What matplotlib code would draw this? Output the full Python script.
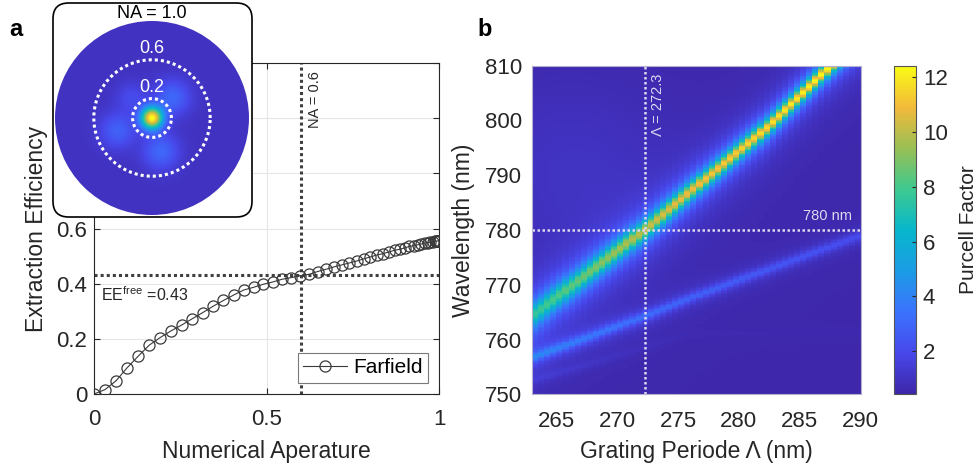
import numpy as np
import matplotlib
matplotlib.use("Agg")
import matplotlib.pyplot as plt
from matplotlib.colors import LinearSegmentedColormap
from matplotlib.patches import FancyBboxPatch, Circle

plt.rcParams['font.family'] = ['Liberation Sans', 'DejaVu Sans']
plt.rcParams['mathtext.fontset'] = 'custom'
plt.rcParams['mathtext.rm'] = 'Liberation Sans'
plt.rcParams['mathtext.it'] = 'Liberation Sans:italic'

# ---- panel a: extraction efficiency vs NA ----
na = [0.000, 0.032, 0.064, 0.096, 0.128, 0.160, 0.191, 0.222, 0.254, 0.285,
      0.315, 0.345, 0.375, 0.405, 0.434, 0.463, 0.491, 0.518, 0.545, 0.572,
      0.598, 0.624, 0.648, 0.672, 0.696, 0.718, 0.740, 0.761, 0.782, 0.801,
      0.820, 0.838, 0.855, 0.871, 0.887, 0.901, 0.914, 0.927, 0.938, 0.949,
      0.959, 0.967, 0.975, 0.982, 0.987, 0.992, 0.995, 0.998, 0.999, 1.000]
ee = [0.000, 0.016, 0.048, 0.095, 0.137, 0.177, 0.204, 0.228, 0.250, 0.273,
      0.295, 0.318, 0.339, 0.359, 0.377, 0.387, 0.398, 0.406, 0.416, 0.422,
      0.429, 0.434, 0.444, 0.452, 0.461, 0.468, 0.475, 0.482, 0.490, 0.497,
      0.504, 0.509, 0.515, 0.521, 0.525, 0.530, 0.535, 0.538, 0.541, 0.544,
      0.547, 0.549, 0.551, 0.552, 0.553, 0.554, 0.555, 0.555, 0.556, 0.556]
ee_free = 0.43
na_mark = 0.6
na_rings = [0.2, 0.6]

# far-field inset pattern (normalised): central spot + weak side lobes
ff_base = 0.05
ff_peak = 1.0
ff_sigma = 0.08
lobe_ang = [45, 200, 285, 135]
lobe_r = [0.30, 0.38, 0.36, 0.30]
lobe_amp = [0.18, 0.16, 0.18, 0.09]
lobe_sig = [0.13, 0.13, 0.13, 0.11]

# ---- panel b: Purcell factor map ----
period_lim = [263, 290]
wl_lim = [750, 810]
period_sel = 272.3
wl_sel = 780
pf_bg = 0.5

bright_p = [263, 267, 272.3, 277, 282, 287.6, 290]
bright_wl = [764.2, 771.0, 780.0, 788.8, 798.0, 810.0, 814.5]
bright_pf = [7.0, 8.0, 9.5, 10.5, 11.2, 12.0, 12.2]
bright_w = [2.4, 2.1, 1.8, 1.6, 1.5, 1.4, 1.4]

weak_p = [263, 272.3, 276, 290]
weak_wl = [756.6, 764.2, 767.5, 778.9]
weak_pf = [3.2, 2.6, 2.3, 1.6]
weak_w = [1.0, 0.95, 0.9, 0.9]

faint_p = [263, 270, 276]
faint_wl = [752.5, 757.0, 761.0]
faint_pf = [0.6, 0.3, 0.1]
faint_w = [0.8, 0.8, 0.8]

# MATLAB parula-like colormap
parula = LinearSegmentedColormap.from_list('parula', [
    (0.000, (0.2422, 0.1504, 0.6603)),
    (0.125, (0.2810, 0.2820, 0.9210)),
    (0.250, (0.2300, 0.4500, 0.9950)),
    (0.375, (0.1090, 0.6130, 0.8980)),
    (0.500, (0.0280, 0.7160, 0.7990)),
    (0.625, (0.2430, 0.7880, 0.5630)),
    (0.750, (0.6000, 0.7500, 0.3300)),
    (0.875, (0.9500, 0.7300, 0.2300)),
    (1.000, (0.9769, 0.9839, 0.0805)),
])

fig = plt.figure(figsize=(9.78, 4.68), dpi=100)

# ------------------------------------------------------------ panel a
ax1 = fig.add_axes([0.0961, 0.1581, 0.3528, 0.7073])
ax1.plot(na, ee, '-o', color='#3a3a3a', lw=0.8, ms=8, mfc='none', mew=0.9,
         label='Farfield', zorder=3)
ax1.axhline(ee_free, color='#404040', ls=(0, (1, 1)), lw=2.2, zorder=2)
ax1.axvline(na_mark, color='#404040', ls=(0, (1, 1)), lw=2.2, zorder=2)
ax1.set_xlim(0, 1)
ax1.set_ylim(0, 1.2)
ax1.set_xticks([0, 0.5, 1])
ax1.set_xticklabels(['0', '0.5', '1'])
ax1.set_yticks([0, 0.2, 0.4, 0.6, 0.8, 1.0, 1.2])
ax1.set_yticklabels(['0', '0.2', '0.4', '0.6', '0.8', '1', '1.2'])
ax1.grid(True, color='#e6e6e6', lw=0.8)
ax1.set_axisbelow(True)
ax1.tick_params(direction='in', length=4, labelsize=16, color='#262626',
                labelcolor='#262626', top=True, right=True)
ax1.tick_params(axis='x', pad=11)
ax1.tick_params(axis='y', pad=5)
for s in ax1.spines.values():
    s.set_color('#262626')
    s.set_linewidth(0.8)
ax1.set_xlabel('Numerical Aperature', fontsize=16.5, color='#262626', labelpad=7)
ax1.set_ylabel('Extraction Efficiency', fontsize=16.5, color='#262626', labelpad=6)
ax1.text(0.02, 0.36, r'EE$^{\mathrm{free}}$ =0.43', fontsize=11.5, color='#262626',
         va='center', ha='left')
ax1.text(0.64, 1.17, 'NA = 0.6', rotation=90, fontsize=10.5, color='#262626',
         va='top', ha='center')
leg = ax1.legend(loc='lower right', fontsize=15, frameon=True, fancybox=False,
                 edgecolor='#7a7a7a', framealpha=1, handlelength=2.1,
                 handletextpad=0.3, borderpad=0.25, borderaxespad=0.55)
leg.get_frame().set_linewidth(0.8)

# inset box and far-field image
fig.add_artist(FancyBboxPatch((53 / 978, 1 - 217 / 468), 199 / 978, 214 / 468,
                              boxstyle='round,pad=0,rounding_size=0.016',
                              mutation_aspect=978 / 468, transform=fig.transFigure,
                              fc='white', ec='black', lw=1.2, zorder=2))
ax_in = fig.add_axes([45.3 / 978, 243.3 / 468, 213.4 / 978, 213.4 / 468], zorder=3)
ax_in.set_axis_off()
ax_in.patch.set_alpha(0)
u = np.linspace(-1, 1, 161)
UX, UY = np.meshgrid(u, u)
ff = ff_base + ff_peak * np.exp(-(UX ** 2 + UY ** 2) / (2 * ff_sigma ** 2))
for ang, rad, amp, sig in zip(lobe_ang, lobe_r, lobe_amp, lobe_sig):
    cx, cy = rad * np.cos(np.radians(ang)), rad * np.sin(np.radians(ang))
    ff += amp * np.exp(-((UX - cx) ** 2 + (UY - cy) ** 2) / (2 * sig ** 2))
img = ax_in.imshow(ff, extent=[-1, 1, -1, 1], origin='lower', cmap=parula,
                   vmin=0, vmax=1.05, interpolation='bilinear')
img.set_clip_path(Circle((0, 0), 1.0, transform=ax_in.transData))
th = np.linspace(0, 2 * np.pi, 300)
for r in na_rings:
    ax_in.plot(r * np.cos(th), r * np.sin(th), color='white', lw=2.2, ls=(0, (1, 1)))
ax_in.set_xlim(-1.1, 1.1)
ax_in.set_ylim(-1.1, 1.1)
ax_in.set_aspect('equal')
ax_in.text(0, 0.72, '0.6', color='white', fontsize=13, ha='center', va='center')
ax_in.text(0, 0.31, '0.2', color='white', fontsize=13, ha='center', va='center')
ax_in.text(0, 1.08, 'NA = 1.0', color='black', fontsize=13, ha='center', va='center',
           clip_on=False)

fig.text(0.0095, 1 - 30 / 468, 'a', fontsize=17, fontweight='bold', va='center')

# ------------------------------------------------------------ panel b
ax2 = fig.add_axes([0.5437, 0.1575, 0.3364, 0.7021])
p_cols = np.arange(period_lim[0] + 0.25, period_lim[1], 0.5)
wl_rows = np.arange(wl_lim[0] + 0.125, wl_lim[1], 0.25)
P, W = np.meshgrid(p_cols, wl_rows)


def mode(p, wl, amp, width):
    c = np.interp(P, p, wl)
    a = np.interp(P, p, amp)
    g = np.interp(P, p, width)
    return a / (1 + ((W - c) / g) ** 2)


pf = pf_bg + 0.5 * np.exp(-((P - 266) ** 2) / (2 * 6 ** 2) - ((W - 792) ** 2) / (2 * 12 ** 2))
pf = pf + mode(bright_p, bright_wl, bright_pf, bright_w)
pf = pf + mode(weak_p, weak_wl, weak_pf, weak_w)
pf = pf + mode(faint_p, faint_wl, faint_pf, faint_w)

im = ax2.imshow(pf, extent=[period_lim[0], period_lim[1], wl_lim[0], wl_lim[1]],
                origin='lower', aspect='auto', cmap=parula, vmin=0.44, vmax=12.4,
                interpolation='nearest')
dot_c = '#dcd8f0'
ax2.axvline(period_sel, color=dot_c, ls=(0, (1, 1)), lw=1.8)
ax2.axhline(wl_sel, color=dot_c, ls=(0, (1, 1)), lw=1.8)
ax2.text(273.4, 808.5, 'Λ = 272.3', rotation=90, color=dot_c, fontsize=10.5,
         ha='center', va='top')
ax2.text(289.3, 781.2, '780 nm', color=dot_c, fontsize=10.5, ha='right', va='bottom')
ax2.set_xlim(period_lim)
ax2.set_ylim(wl_lim)
ax2.set_xticks([265, 270, 275, 280, 285, 290])
ax2.set_yticks([750, 760, 770, 780, 790, 800, 810])
ax2.tick_params(length=0, labelsize=16, labelcolor='#262626')
ax2.tick_params(axis='x', pad=12)
ax2.tick_params(axis='y', pad=7)
for s in ax2.spines.values():
    s.set_color('#b4b0d0')
    s.set_linewidth(0.8)
ax2.set_xlabel('Grating Periode Λ (nm)', fontsize=16.5, color='#262626', labelpad=6)
ax2.set_ylabel('Wavelength (nm)', fontsize=16.5, color='#262626', labelpad=7)

cax = fig.add_axes([0.9138, 0.1575, 0.0228, 0.7021])
cb = fig.colorbar(im, cax=cax)
cb.set_ticks([2, 4, 6, 8, 10, 12])
cb.ax.tick_params(direction='in', length=3, labelsize=16, color='#262626',
                  labelcolor='#262626', pad=5)
cb.outline.set_linewidth(0.8)
cb.outline.set_edgecolor('#555555')
cb.set_label('Purcell Factor', fontsize=15, color='#262626', labelpad=8)

fig.text(0.4885, 1 - 30 / 468, 'b', fontsize=17, fontweight='bold', va='center')

fig.savefig('out.png', dpi=100)
